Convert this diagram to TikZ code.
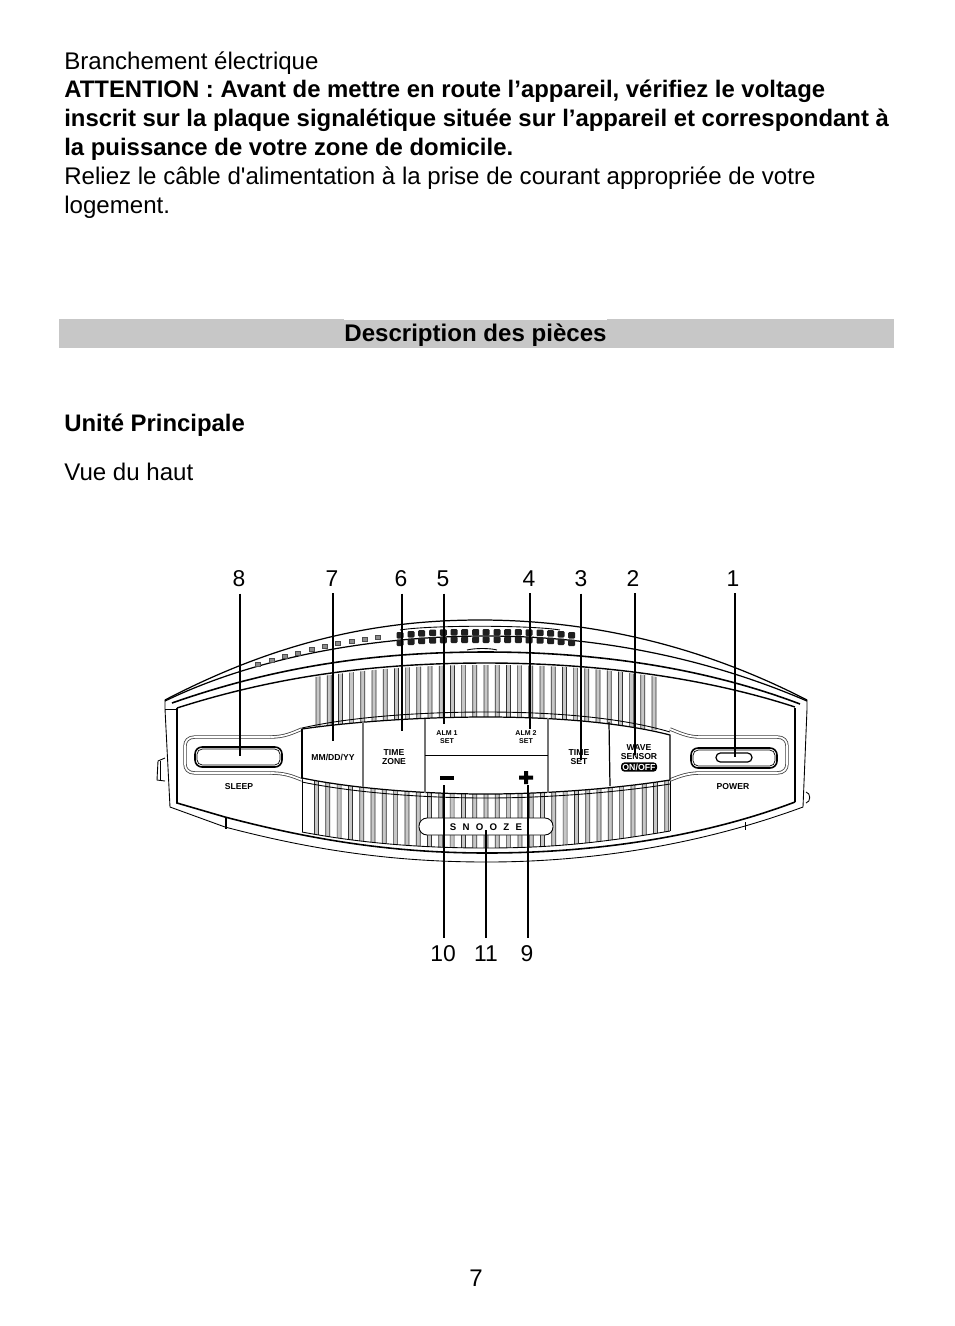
\documentclass[tikz,border=0pt]{standalone}
\usepackage{fontspec}
\setmainfont{Liberation Sans}
\newfontfamily\plainfont{Liberation Sans}
\begin{document}
\begin{tikzpicture}[x=0.02cm,y=-0.02cm,
    body/.style={anchor=base west,inner sep=0pt,font=\plainfont\fontsize{13.7}{16}\selectfont},
    bodyb/.style={body,font=\fontsize{13.6}{16}\selectfont\bfseries},
    num/.style={inner sep=4pt,anchor=base,font=\fontsize{13}{16}\selectfont},
    lead/.style={line width=1.1pt},
    leadthin/.style={line width=0.6pt},
    key/.style={inner sep=0pt,align=center,font=\fontsize{4.9}{5.4}\selectfont\bfseries},
    shell/.style={line width=0.5pt},
    pocket/.style={draw=black!75,line width=0.45pt,double,double distance=1pt},
    slat/.style={draw=black!80,line width=0.4pt,fill=black!22,rounded corners=1pt},
    led/.style={draw=black!70,fill=black!45,line width=0.3pt,inner sep=0pt,minimum width=0.11cm,minimum height=0.08cm},
    grill/.style={fill=black!88,rounded corners=0.6pt}]
  \useasboundingbox (0,0) rectangle (954,1326);
  \fill[white] (0,0) rectangle (954,1326);
  % text block
  \node[body] (line1) at (64,69) {Branchement électrique};
  \node[bodyb] (line2) at (64,97) {ATTENTION : Avant de mettre en route l’appareil, vérifiez le voltage};
  \node[bodyb] (line3) at (64,126) {inscrit sur la plaque signalétique située sur l’appareil et correspondant à};
  \node[bodyb] (line4) at (64,155) {la puissance de votre zone de domicile.};
  \node[body] (line5) at (64,184) {Reliez le câble d'alimentation à la prise de courant appropriée de votre};
  \node[body] (line6) at (64,213) {logement.};
  % title bar
  \fill[black!22] (59,319) rectangle (894,348);
  \fill[white] (344,317) rectangle (607,320);
  \node[bodyb,anchor=base,font=\fontsize{13.7}{16}\selectfont\bfseries] (title) at (475.5,341) {Description des pièces};
  \node[bodyb] (unit) at (64,431) {Unité Principale};
  \node[body] (view) at (64,480) {Vue du haut};
  \node[body,anchor=base] (page) at (476,1286) {7};
  % shell
  \draw[shell,line width=0.7pt] (165,700) .. controls (280,640) and (380,620) .. (480,620) .. controls (590,620) and (700,645) .. (807,700);
  \draw[shell] (400,630) .. controls (430,625) and (530,625) .. (560,630);
  \draw[shell,line width=0.7pt] (165,701) .. controls (260,655) and (380,636) .. (486,636) .. controls (590,636) and (700,655) .. (807,701);
  \draw[line width=0.9pt] (172,703) .. controls (280,665) and (380,652) .. (486,652) .. controls (590,652) and (700,666) .. (800,704);
  \draw[shell] (467,650) .. controls (475,648) and (490,648) .. (497,650);
  \draw[line width=0.8pt] (177,708) .. controls (280,675) and (380,663) .. (486,663) .. controls (590,663) and (700,676) .. (795,707);
  \draw[shell] (165,700) -- (165,709) -- (170,807) -- (225,827) .. controls (320,852) and (400,862) .. (487,862) .. controls (590,862) and (700,845) .. (803,807) -- (807,709) -- (807,700);
  \draw[shell] (165,709) -- (177,709);
  \draw[line width=0.9pt] (177,708) -- (177,803) -- (225,817) .. controls (320,842) and (400,853) .. (487,853) .. controls (590,853) and (700,838) .. (795,802);
  \draw[line width=1.3pt] (795,708) -- (795,802);
  \draw[line width=1pt] (226,817) -- (226,829);
  \draw[shell] (745,822) -- (745,830);
  % side knobs
  \draw[shell] (165,758) -- (158,761) -- (157,780) -- (165,781);
  \draw[shell] (160,761) -- (160,780);
  \draw[shell] (806,792) .. controls (811,793) and (811,802) .. (806,803);
  % leds
  \foreach \lx/\ly in {258/664,272/660,285/656,298/653,312/649,325/646,338/643,352/641,365/639,378/637} {
    \node[led] at (\lx,\ly) {};
  }
  % speaker holes
  \foreach \sx/\sy in {400/3,411/2,421.7/1.2,432.7/.6,443.3/.3,454/0,464.7/0,475.7/0,486/0,497/0,507.7/0,518.3/0,529/.3,540/.6,550.7/1.2,561/2,571.7/3} {
    \fill[grill] (\sx-3.5,629+\sy) rectangle (\sx+3.5,635.5+\sy);
    \fill[grill] (\sx-3.5,636.5+\sy) rectangle (\sx+3.5,643+\sy);
  }
  % upper slats
  \begin{scope}
    \clip (315,700) -- (315,677) .. controls (380,668) and (430,665) .. (486,665) .. controls (550,665) and (600,668) .. (657,677) -- (657,730) -- (315,730) -- cycle;
    \foreach \sn in {-15,...,15} {
      \draw[slat] ({484+11.2*\sn},660) rectangle ({488+11.2*\sn},735);
    }
  \end{scope}
  % lower slats
  \begin{scope}
    \clip (302,775) -- (670,775) -- (670,831) .. controls (600,843) and (550,848) .. (486,848) .. controls (420,848) and (360,843) .. (302,832) -- cycle;
    \foreach \sn in {-15,...,16} {
      \draw[slat] ({484+11.3*\sn},770) rectangle ({488+11.3*\sn},855);
    }
  \end{scope}
  \draw[shell] (302,832) .. controls (360,843) and (420,848) .. (486,848) .. controls (550,848) and (600,843) .. (670,831);
  \draw[shell] (302,778) -- (302,832);
  \draw[shell] (670,778) -- (670,831);
  % left and right pockets
  \draw[pocket] (270,737) .. controls (285,737) and (292,733) .. (302,729);
  \draw[pocket] (270,773) .. controls (285,773) and (292,776) .. (302,780);
  \draw[pocket] (270,737) -- (195,737) .. controls (188,737) and (185,741) .. (185,746) -- (185,764) .. controls (185,769) and (188,773) .. (195,773) -- (270,773);
  \draw[pocket] (700,737) .. controls (688,737) and (680,733) .. (670,729);
  \draw[pocket] (700,773) .. controls (688,773) and (680,776) .. (670,780);
  \draw[pocket] (700,737) -- (777,737) .. controls (784,737) and (787,741) .. (787,746) -- (787,764) .. controls (787,769) and (784,773) .. (777,773) -- (700,773);
  % button panel
  \draw[shell] (302,728) .. controls (350,717) and (420,712) .. (486,712) .. controls (550,712) and (620,717) .. (670,732);
  \draw[fill=white,line width=0.7pt] (302,729) .. controls (350,722) and (420,717) .. (486,717) .. controls (550,717) and (620,722) .. (670,735) -- (670,780) .. controls (620,788) and (550,794) .. (486,794) .. controls (420,794) and (350,788) .. (302,778) -- cycle;
  \draw[shell] (302,782) .. controls (350,792) and (420,798) .. (486,798) .. controls (550,798) and (620,792) .. (670,784);
  \draw[line width=1pt] (302,729) -- (302,778);
  \draw[line width=0.7pt] (609,722) -- (610,786);
  \draw[black!55,line width=0.7pt] (363,722) -- (363,787) (425,719) -- (425,793) (548,718) -- (548,793);
  \draw[line width=0.5pt] (425,755) -- (548,755);
  % buttons
  \draw[fill=white,rounded corners=4pt,line width=0.9pt] (195,747) rectangle (282,767);
  \draw[rounded corners=3pt,line width=0.4pt] (197,749) rectangle (280,765);
  \draw[fill=white,rounded corners=4pt,line width=0.9pt] (691,748) rectangle (777,768);
  \draw[rounded corners=3pt,line width=0.4pt] (693,750) rectangle (775,766);
  \draw[fill=white,rounded corners=2.5pt,line width=0.7pt] (716,753) rectangle (752,762);
  % snooze
  \draw[fill=white,line width=0.5pt,rounded corners=4.6pt] (419,818) rectangle (553,835);
  \node[key,font=\fontsize{5.5}{6}\selectfont\bfseries] (snooze) at (486,827) {S\hspace{0.65em}N\hspace{0.65em}O\hspace{0.65em}O\hspace{0.65em}Z\hspace{0.65em}E};
  % key labels
  \node[key] (sleep) at (239,787) {SLEEP};
  \node[key] (power) at (733,787) {POWER};
  \node[key] (date) at (333,757) {MM/DD/YY};
  \node[key] (zone) at (394,757) {TIME\\ZONE};
  \node[key,font=\fontsize{4}{4.9}\selectfont\bfseries] (alm1) at (447,737) {ALM 1\\SET};
  \node[key,font=\fontsize{4}{4.9}\selectfont\bfseries] (alm2) at (526,737) {ALM 2\\SET};
  \node[key] (tset) at (579,757) {TIME\\SET};
  \node[key] (wave) at (639,752) {WAVE\\SENSOR};
  \node[fill=black,text=white,rounded corners=2pt,inner sep=0.8pt,font=\fontsize{5}{5}\selectfont\bfseries] (onoff) at (639,767) {ON/OFF};
  \fill[black] (440,775.5) rectangle (454,779.5);
  \fill[black] (519,775.5) rectangle (533,779.5) (524,771) rectangle (528,784);
  % leaders
  \coordinate (t8) at (240,756);
  \coordinate (t7) at (333,741);
  \coordinate (t6) at (402,731);
  \coordinate (t5) at (444,724);
  \coordinate (t4) at (530,729);
  \coordinate (t3) at (581,760);
  \coordinate (t2) at (635,755);
  \coordinate (t1) at (735,757);
  \coordinate (t10) at (444,785);
  \coordinate (t11) at (486,830);
  \coordinate (t9) at (528,785);
  \node[num] (n8) at (239,586) {8};
  \node[num] (n7) at (332,586) {7};
  \node[num] (n6) at (401,586) {6};
  \node[num] (n5) at (443,586) {5};
  \node[num] (n4) at (529,586) {4};
  \node[num] (n3) at (581,586) {3};
  \node[num] (n2) at (633,586) {2};
  \node[num] (n1) at (733,586) {1};
  \node[num] (n10) at (443,961) {10};
  \node[num] (n11) at (486,961) {11};
  \node[num] (n9) at (527,961) {9};
  \draw[lead] (n8.south -| t8) -- (t8);
  \draw[leadthin] (n7.south -| t7) -- (t7);
  \draw[lead] (n6.south -| t6) -- (t6);
  \draw[leadthin] (n5.south -| t5) -- (t5);
  \draw[leadthin] (n4.south -| t4) -- (t4);
  \draw[lead] (n3.south -| t3) -- (t3);
  \draw[lead] (n2.south -| t2) -- (t2);
  \draw[leadthin] (n1.south -| t1) -- (t1);
  \draw[lead] (n10.north -| t10) -- (t10);
  \draw[leadthin] (n11.north -| t11) -- (t11);
  \draw[leadthin] (n9.north -| t9) -- (t9);
\end{tikzpicture}
\end{document}
